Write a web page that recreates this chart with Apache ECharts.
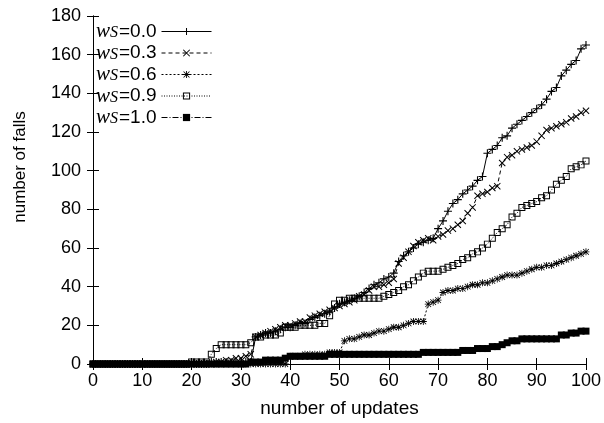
<!DOCTYPE html>
<html>
<head>
<meta charset="utf-8">
<script src="https://cdn.jsdelivr.net/npm/echarts@6/dist/echarts.min.js"></script>
<style>html,body{margin:0;padding:0;background:#fff}#c{width:604px;height:423px}</style>
</head>
<body>
<div id="c"></div>
<script>
const updates = [0,1,2,3,4,5,6,7,8,9,10,11,12,13,14,15,16,17,18,19,20,21,22,23,24,25,26,27,28,29,30,31,32,33,34,35,36,37,38,39,40,41,42,43,44,45,46,47,48,49,50,51,52,53,54,55,56,57,58,59,60,61,62,63,64,65,66,67,68,69,70,71,72,73,74,75,76,77,78,79,80,81,82,83,84,85,86,87,88,89,90,91,92,93,94,95,96,97,98,99,100];
const seriesNames = ['0.0','0.3','0.6','0.9','1.0'];
const s00 = [0,0,0,0,0,0,0,0,0,0, 0,0,0,0,0,0,0,0,0,0, 0,0,0,0,1,1,1,1,1,1, 1,1,1,14,15,16,16,17,18,19,
  19,20,21,21,23,24,25,26,27,29, 31,32,33,34,35,37,39,41,42,44, 45,47,53,56,58,60,62,63,64,65,
  70,74,79,83,85,88,90,92,95,97, 109,111,113,117,118,122,124,126,128,130, 132,134,137,141,143,149,152,155,157,163, 165];
const s03 = [0,0,0,0,0,0,0,0,0,0, 0,0,0,0,0,0,0,0,0,0, 0,0,0,0,0,1,1,2,2,3, 3,4,5,14,15,16,17,18,19,20,
  20,21,22,22,24,25,26,27,28,29, 30,31,32,33,35,36,38,40,40,41, 42,44,52,55,58,61,63,64,65,64,
  66,67,69,70,72,74,78,81,87,88, 89,91,92,104,107,108,110,111,112,113, 115,118,121,122,123,124,125,127,128,130, 131];
const s06 = [0,0,0,0,0,0,0,0,0,0, 0,0,0,0,0,0,0,0,0,0, 0,0,0,0,0,0,0,0,0,0, 0,0,0,0,0,0,0,0,0,0,
  4,4,4,5,5,5,5,5,6,6, 6,12,13,13,14,15,15,16,17,17, 18,19,19,20,21,22,22,22,31,32,
  33,37,38,38,39,39,40,41,41,42, 42,43,44,45,46,46,46,47,48,49, 50,50,51,51,52,53,54,55,56,57, 58];
const s09 = [0,0,0,0,0,0,0,0,0,0, 0,0,0,0,0,0,0,0,0,0, 1,1,1,1,5,8,10,10,10,10, 10,10,11,14,14,15,15,15,16,19,
  19,19,20,20,20,20,21,21,25,31, 33,33,34,34,34,34,34,34,34,35, 36,37,38,40,41,43,45,47,48,48,
  48,49,50,51,52,54,55,57,58,60, 62,65,68,70,72,76,78,81,82,83, 84,86,87,90,93,95,97,101,102,103, 105];
const s10 = [0,0,0,0,0,0,0,0,0,0, 0,0,0,0,0,0,0,0,0,0, 0,0,0,0,0,0,0,0,0,0, 0,0,1,1,1,2,2,2,2,3,
  4,4,4,4,4,4,4,4,5,5, 5,5,5,5,5,5,5,5,5,5, 5,5,5,5,5,5,5,6,6,6,
  6,6,6,6,6,7,7,7,8,8, 8,9,9,10,11,12,12,13,13,13, 13,13,13,13,13,15,15,16,16,17, 17];
const xTicks = [0,10,20,30,40,50,60,70,80,90,100];

const PLUS = 'path://M0,4.3H10V5.7H0Z M4.3,0H5.7V10H4.3Z';
const CROSS = 'path://M0,1L1,0L10,9L9,10Z M9,0L10,1L1,10L0,9Z';
const STAR = 'path://M0,4.4H10V5.6H0Z M4.4,0H5.6V10H4.4Z M0.5,1.3L1.3,0.5L9.5,8.7L8.7,9.5Z M8.7,0.5L9.5,1.3L1.3,9.5L0.5,8.7Z';
const HSQ = 'path://M0,0H10V10H0Z M1.4,1.4V8.6H8.6V1.4Z';

const styles = [
  {symbol: PLUS, size: 8, dash: 'solid'},
  {symbol: CROSS, size: 7, dash: [4,3]},
  {symbol: STAR, size: 7, dash: [2,2]},
  {symbol: HSQ, size: 7, dash: [1,1.5]},
  {symbol: 'rect', size: 7, dash: [6,2,1,2]}
];
const allData = [s00, s03, s06, s09, s10];

const chart = echarts.init(document.getElementById('c'), null, {renderer: 'canvas'});
const axisCommon = {
  min: 0,
  axisLine: {show: true, lineStyle: {color: '#000', width: 1}},
  axisTick: {show: true, inside: true, length: 6, lineStyle: {color: '#000'}},
  splitLine: {show: false}
};
chart.setOption({
  animation: false,
  backgroundColor: '#fff',
  grid: {left: 93, right: 17, top: 16, bottom: 58, containLabel: false},
  xAxis: [
    Object.assign({}, axisCommon, {
      type: 'value', max: 100, interval: 10, position: 'bottom',
      axisLabel: {show: true, margin: 8, color: '#000', fontFamily: 'Liberation Sans', fontSize: 18,
        customValues: xTicks},
      name: 'number of updates', nameLocation: 'middle', nameGap: 35,
      nameTextStyle: {color: '#000', fontFamily: 'Liberation Sans', fontSize: 19}
    }),
    Object.assign({}, axisCommon, {
      type: 'value', max: 100, interval: 10, position: 'top', axisLabel: {show: false}
    })
  ],
  yAxis: [
    Object.assign({}, axisCommon, {
      type: 'value', max: 180, interval: 20, position: 'left',
      axisLabel: {show: true, margin: 12, color: '#000', fontFamily: 'Liberation Sans', fontSize: 18},
      name: 'number of falls', nameLocation: 'middle', nameGap: 64, nameRotate: 90,
      nameTextStyle: {color: '#000', fontFamily: 'Liberation Sans', fontSize: 17, padding: [0,0,0,46]}
    }),
    Object.assign({}, axisCommon, {
      type: 'value', max: 180, interval: 20, position: 'right', axisLabel: {show: false}
    })
  ],
  legend: {
    show: true, orient: 'vertical', left: 96, top: 21, padding: 0,
    align: 'right', itemWidth: 50, itemHeight: 9, itemGap: 0.5,
    data: seriesNames,
    lineStyle: {width: 1, color: '#000'},
    formatter: function (n) { return '{w|w}{s|S}{t|=' + n + '}'; },
    textStyle: {
      color: '#000', lineHeight: 19,
      rich: {
        w: {fontFamily: 'Liberation Serif', fontStyle: 'italic', fontSize: 21, lineHeight: 19},
        s: {fontFamily: 'Liberation Serif', fontStyle: 'italic', fontSize: 16, lineHeight: 14, verticalAlign: 'bottom', padding: [0,1,0,0]},
        t: {fontFamily: 'Liberation Sans', fontSize: 19, lineHeight: 19}
      }
    }
  },
  series: seriesNames.map(function (name, k) {
    return {
      name: name, type: 'line', xAxisIndex: 0, yAxisIndex: 0,
      data: updates.map(function (u, i) { return [u, allData[k][i]]; }),
      symbol: styles[k].symbol, symbolSize: styles[k].size, showAllSymbol: true,
      itemStyle: {color: '#000'},
      lineStyle: {color: '#000', width: 1, type: styles[k].dash},
      emphasis: {disabled: true}
    };
  })
});
</script>
</body>
</html>
